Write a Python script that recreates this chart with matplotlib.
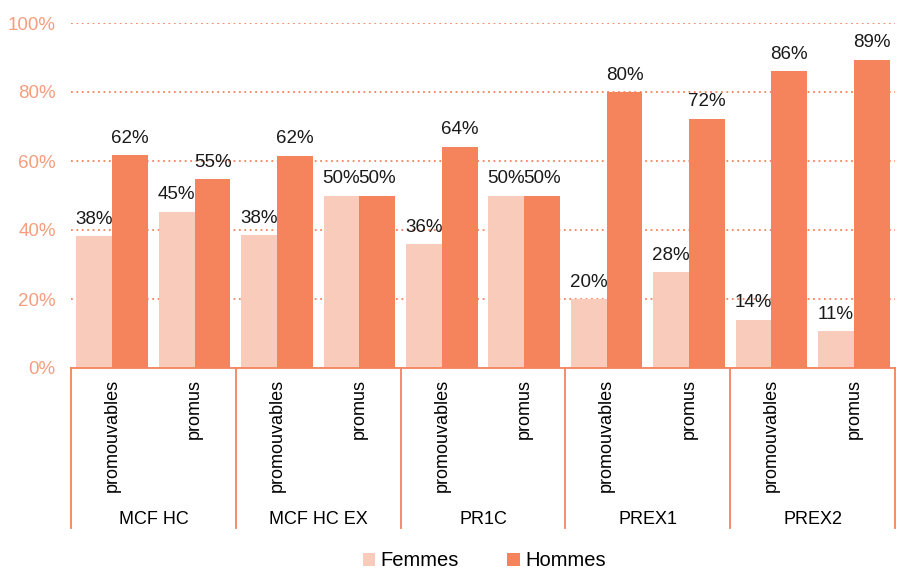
import numpy as np
import matplotlib.pyplot as plt
import matplotlib.transforms as mtransforms

plt.rcParams['font.family'] = ['Liberation Sans', 'DejaVu Sans']

groups = ['MCF HC', 'MCF HC EX', 'PR1C', 'PREX1', 'PREX2']
sub = ['promouvables', 'promus']
femmes = [38.3, 45.3, 38.5, 50.0, 35.8, 50.0, 20.0, 27.7, 14.0, 10.6]
hommes = [61.7, 54.7, 61.5, 50.0, 64.2, 50.0, 80.0, 72.3, 86.0, 89.4]

c_f = '#F9CBBA'
c_h = '#F5845C'
c_tick = '#F59E7E'

fig = plt.figure(figsize=(8.97, 5.74), dpi=100)
ax = fig.add_axes([71/897, 206/574, 824/897, 345/574])

x = np.arange(len(femmes))
w = 0.435
b1 = ax.bar(x - w/2, femmes, w, color=c_f, label='Femmes')
b2 = ax.bar(x + w/2, hommes, w, color=c_h, label='Hommes')

for bars, vals in [(b1, femmes), (b2, hommes)]:
    for r, v in zip(bars, vals):
        ax.annotate('%d%%' % round(v), (r.get_x() + r.get_width()/2, v),
                    xytext=(0, 6), textcoords='offset points',
                    ha='center', va='bottom', fontsize=13.5, color='#1a1a1a')

ax.set_xlim(-0.5, len(x) - 0.5)
ax.set_ylim(0, 100)
ax.set_yticks(range(0, 101, 20))
ax.set_yticklabels(['%d%%' % t for t in range(0, 101, 20)], color=c_tick, fontsize=13.5)
ax.yaxis.grid(True, color=c_h, linestyle=(0, (1, 2)), linewidth=1.3)
ax.set_axisbelow(True)
ax.tick_params(axis='y', length=0, pad=11)

ax.set_xticks(x)
ax.set_xticklabels(sub * len(groups), rotation=90, fontsize=13, va='top')
ax.tick_params(axis='x', length=0, pad=8)

for s in ['top', 'right', 'left']:
    ax.spines[s].set_visible(False)
ax.spines['bottom'].set_color(c_h)
ax.spines['bottom'].set_linewidth(1.3)

trans = mtransforms.blended_transform_factory(ax.transData, ax.transAxes)
for k in range(len(groups) + 1):
    xs = 2*k - 0.5
    ax.plot([xs, xs], [0, -0.465], color=c_h, lw=1.3, transform=trans, clip_on=False)
for k, g in enumerate(groups):
    ax.text(2*k + 0.5, -0.44, g, transform=trans, ha='center', va='center', fontsize=13)

fig.legend(loc='lower center', bbox_to_anchor=(0.54, -0.025), ncol=2, frameon=False,
           fontsize=14.5, handlelength=0.6, handleheight=0.6, handletextpad=0.3,
           columnspacing=2.4)

fig.savefig('out.png', dpi=100)
